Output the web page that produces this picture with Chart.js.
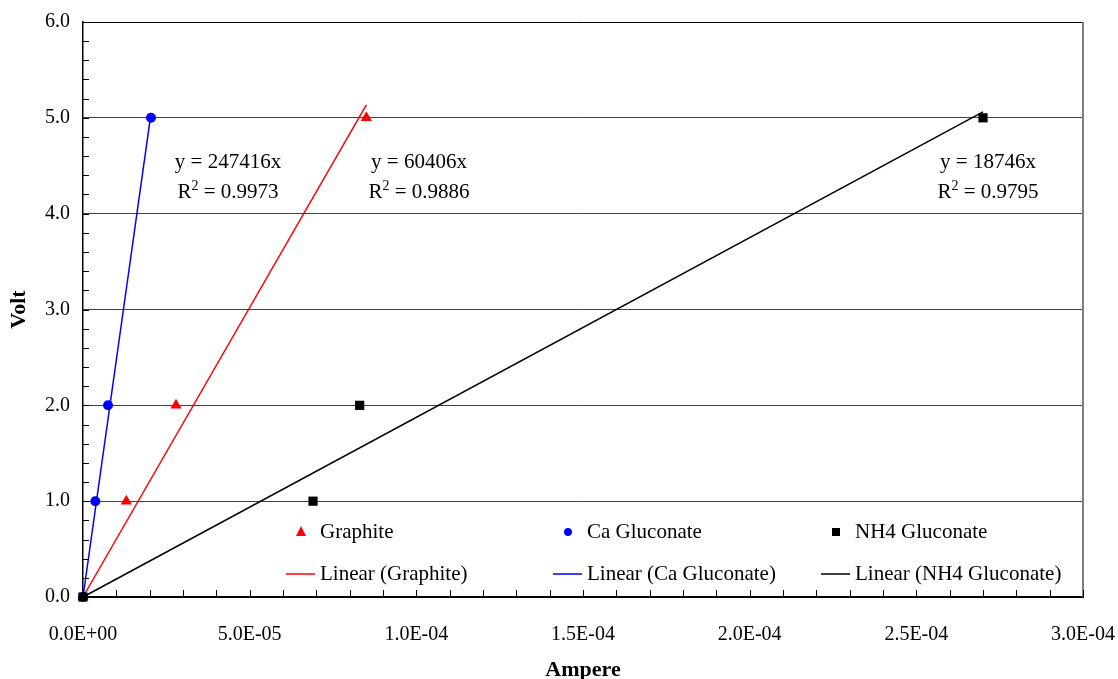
<!DOCTYPE html>
<html>
<head>
<meta charset="utf-8">
<script src="https://cdn.jsdelivr.net/npm/chart.js@4.4.0/dist/chart.umd.min.js"></script>
<style>
  html, body { margin: 0; padding: 0; background: #fff; }
  #wrap { width: 1118px; height: 679px; }
</style>
</head>
<body>
<div id="wrap"><canvas id="chart" width="1118" height="679"></canvas></div>
<script>
// data
const seriesNames = ['Graphite', 'Ca Gluconate', 'NH4 Gluconate'];
const graphiteAmps = [0, 1.3e-5, 2.79e-5, 8.5e-5];
const graphiteVolts = [0, 1, 2, 5];
const caAmps = [0, 3.7e-6, 7.5e-6, 2.04e-5];
const caVolts = [0, 1, 2, 5];
const nh4Amps = [0, 6.9e-5, 8.3e-5, 2.70e-4];
const nh4Volts = [0, 1, 2, 5];
const slopes = [60406, 247416, 18746];
const rSquared = ['0.9886', '0.9973', '0.9795'];
const xTickLabels = ['0.0E+00', '5.0E-05', '1.0E-04', '1.5E-04', '2.0E-04', '2.5E-04', '3.0E-04'];
const yTickLabels = ['0.0', '1.0', '2.0', '3.0', '4.0', '5.0', '6.0'];

const colors = ['#ff0000', '#0000ff', '#000000'];
const pointStyles = ['triangle', 'circle', 'rect'];
const FONT = "'Liberation Serif', 'Times New Roman', serif";

function toPoints(xs, ys) {
  return xs.map((x, i) => ({ x: x, y: ys[i] }));
}

function trend(xs, slope) {
  const maxX = Math.max(...xs);
  return [{ x: 0, y: 0 }, { x: maxX, y: slope * maxX }];
}

const ampsList = [graphiteAmps, caAmps, nh4Amps];
const voltsList = [graphiteVolts, caVolts, nh4Volts];

const datasets = [];
// point series: NH4 on top, then Ca, then Graphite
const pointSizes = [6.5, 5, 6.5];
seriesNames.forEach((name, i) => {
  datasets.push({
    label: name,
    data: toPoints(ampsList[i], voltsList[i]),
    pointStyle: pointStyles[i],
    pointRadius: pointSizes[i],
    pointHoverRadius: pointSizes[i],
    backgroundColor: colors[i],
    borderColor: colors[i],
    borderWidth: 0,
    showLine: false,
    clip: false,
    order: 2 - i
  });
});
seriesNames.forEach((name, i) => {
  datasets.push({
    label: 'Linear (' + name + ')',
    data: trend(ampsList[i], slopes[i]),
    showLine: true,
    borderColor: colors[i],
    borderWidth: 1.5,
    pointRadius: 0,
    clip: false,
    order: 10 + i
  });
});

// where the equation labels sit (data units)
const eqAnchors = [
  { x: 1.008e-4, y: 4.53 },
  { x: 4.35e-5, y: 4.53 },
  { x: 2.715e-4, y: 4.53 }
];

function drawEquation(ctx, cx, cy, slope, r2) {
  ctx.save();
  ctx.fillStyle = '#000';
  ctx.textBaseline = 'middle';
  ctx.font = '21px ' + FONT;
  ctx.textAlign = 'center';
  ctx.fillText('y = ' + slope + 'x', cx, cy);

  const rest = ' = ' + r2;
  const wR = ctx.measureText('R').width;
  const wRest = ctx.measureText(rest).width;
  ctx.font = '14px ' + FONT;
  const w2 = ctx.measureText('2').width;
  const total = wR + w2 + wRest;
  let x = cx - total / 2;
  const y2 = cy + 30;
  ctx.textAlign = 'left';
  ctx.font = '21px ' + FONT;
  ctx.fillText('R', x, y2);
  x += wR;
  ctx.font = '14px ' + FONT;
  ctx.fillText('2', x, y2 - 7);
  x += w2;
  ctx.font = '21px ' + FONT;
  ctx.fillText(rest, x, y2);
  ctx.restore();
}

function drawMarker(ctx, style, x, y, color) {
  ctx.fillStyle = color;
  ctx.beginPath();
  if (style === 'triangle') {
    ctx.moveTo(x, y - 6);
    ctx.lineTo(x + 5, y + 4);
    ctx.lineTo(x - 5, y + 4);
    ctx.closePath();
  } else if (style === 'circle') {
    ctx.arc(x, y, 4, 0, Math.PI * 2);
  } else {
    ctx.rect(x - 4, y - 4, 8, 8);
  }
  ctx.fill();
}

const extrasPlugin = {
  id: 'extras',
  afterDatasetsDraw(chart) {
    const ctx = chart.ctx;
    const area = chart.chartArea;
    const xs = chart.scales.x;
    const ys = chart.scales.y;

    ctx.save();
    // right border
    ctx.strokeStyle = '#808080';
    ctx.lineWidth = 2;
    ctx.beginPath();
    ctx.moveTo(area.right, area.top);
    ctx.lineTo(area.right, area.bottom);
    ctx.stroke();

    // inward tick marks
    ctx.strokeStyle = '#000';
    ctx.lineWidth = 1;
    for (let i = 0; i <= 30; i++) {
      const py = Math.round(ys.getPixelForValue(i * 0.2)) + 0.5;
      ctx.beginPath();
      ctx.moveTo(area.left, py);
      ctx.lineTo(area.left + 6, py);
      ctx.stroke();
      const px = Math.round(xs.getPixelForValue(i * 1e-5)) + 0.5;
      ctx.beginPath();
      ctx.moveTo(px, area.bottom);
      ctx.lineTo(px, area.bottom - 7);
      ctx.stroke();
    }

    // equations
    seriesNames.forEach((name, i) => {
      drawEquation(ctx, xs.getPixelForValue(eqAnchors[i].x), ys.getPixelForValue(eqAnchors[i].y), slopes[i], rSquared[i]);
    });

    // legend inside the plot
    const colStarts = [237, 504, 772];
    const row1 = area.bottom - 65;
    const row2 = area.bottom - 23;
    ctx.font = '21px ' + FONT;
    ctx.textBaseline = 'middle';
    ctx.textAlign = 'left';
    seriesNames.forEach((name, i) => {
      const tx = area.left + colStarts[i];
      drawMarker(ctx, pointStyles[i], tx - 19, row1, colors[i]);
      ctx.fillStyle = '#000';
      ctx.fillText(name, tx, row1);
      ctx.strokeStyle = colors[i];
      ctx.lineWidth = 1.5;
      ctx.beginPath();
      ctx.moveTo(tx - 34, row2);
      ctx.lineTo(tx - 5, row2);
      ctx.stroke();
      ctx.fillText('Linear (' + name + ')', tx, row2);
    });
    ctx.restore();
  }
};

const ctx = document.getElementById('chart').getContext('2d');
new Chart(ctx, {
  type: 'scatter',
  data: { datasets: datasets },
  options: {
    responsive: false,
    devicePixelRatio: 1,
    animation: false,
    layout: { padding: { left: 0, right: 35, top: 22, bottom: 0 } },
    plugins: {
      legend: { display: false },
      tooltip: { enabled: false }
    },
    scales: {
      x: {
        type: 'linear',
        min: 0,
        max: 3e-4,
        afterFit: function (scale) {
          scale.height = 82;
          scale.paddingLeft = 0;
          scale.paddingRight = 0;
        },
        grid: { display: false },
        border: { display: true, color: '#000', width: 2 },
        ticks: {
          stepSize: 5e-5,
          padding: 18,
          color: '#000',
          font: { family: FONT, size: 20 },
          maxRotation: 0,
          callback: function (value, index) { return xTickLabels[index]; }
        },
        title: {
          display: true,
          text: 'Ampere',
          color: '#000',
          font: { family: FONT, size: 22, weight: 'bold', lineHeight: 0.8 },
          padding: { top: 0, bottom: 0 }
        }
      },
      y: {
        type: 'linear',
        min: 0,
        max: 6,
        afterFit: function (scale) {
          scale.width = 83;
          scale.paddingTop = 0;
          scale.paddingBottom = 0;
        },
        grid: {
          color: function (c) { return c.tick && c.tick.value === 6 ? '#000' : '#404040'; },
          lineWidth: 1,
          drawTicks: false
        },
        border: { display: true, color: '#000', width: 1.5 },
        ticks: {
          stepSize: 1,
          padding: 13,
          color: '#000',
          font: { family: FONT, size: 20 },
          callback: function (value, index) { return yTickLabels[index]; }
        },
        title: {
          display: true,
          text: 'Volt',
          color: '#000',
          font: { family: FONT, size: 22, weight: 'bold' },
          padding: { top: 6, bottom: 0 }
        }
      }
    }
  },
  plugins: [extrasPlugin]
});
</script>
</body>
</html>
